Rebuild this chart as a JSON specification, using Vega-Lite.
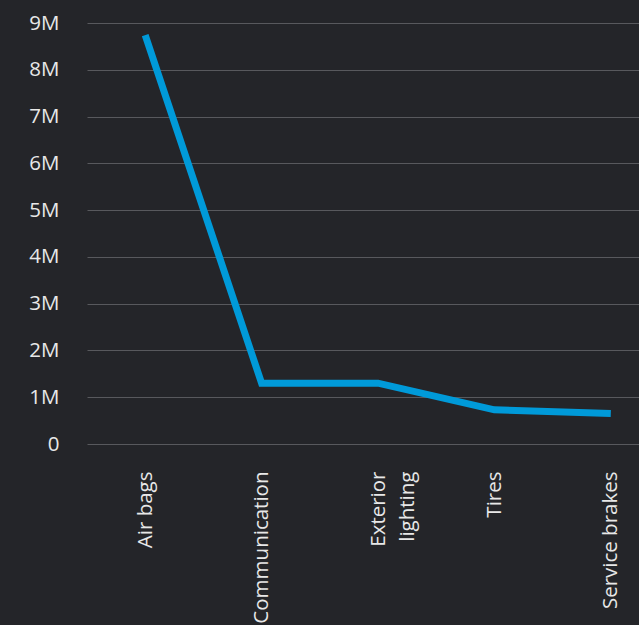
{
  "$schema": "https://vega.github.io/schema/vega-lite/v6.json",
  "width": 582,
  "height": 421,
  "autosize": {"type": "none"},
  "padding": {"left": 87, "top": 23, "right": 0, "bottom": 181},
  "background": "#242529",
  "config": {
    "view": {"stroke": null},
    "font": "Open Sans"
  },
  "data": {
    "values": [
      {"category": "Air bags", "value": 8740000},
      {"category": "Communication", "value": 1300000},
      {"category": "Exterior lighting", "value": 1300000},
      {"category": "Tires", "value": 730000},
      {"category": "Service brakes", "value": 650000}
    ]
  },
  "mark": {"type": "line", "color": "#009ad9", "strokeWidth": 7, "strokeJoin": "miter", "strokeCap": "butt"},
  "encoding": {
    "x": {
      "field": "category",
      "type": "nominal",
      "sort": null,
      "scale": {"type": "point", "padding": 0.5},
      "axis": {
        "title": null,
        "domain": false,
        "ticks": false,
        "grid": false,
        "labelAngle": -90,
        "labelAlign": "right",
        "labelBaseline": "middle",
        "labelPadding": 27,
        "labelFontSize": 20.5,
        "labelColor": "#e8e8e8",
        "labelLineHeight": 29,
        "labelOverlap": false,
        "labelLimit": 0,
        "labelExpr": "datum.label == 'Exterior lighting' ? ['Exterior', 'lighting'] : datum.label"
      }
    },
    "y": {
      "field": "value",
      "type": "quantitative",
      "scale": {"domain": [0, 9000000], "nice": false},
      "axis": {
        "title": null,
        "domain": false,
        "ticks": false,
        "values": [0, 1000000, 2000000, 3000000, 4000000, 5000000, 6000000, 7000000, 8000000, 9000000],
        "labelExpr": "datum.value == 0 ? '0' : (datum.value / 1000000) + 'M'",
        "labelPadding": 28,
        "labelFontSize": 20.5,
        "labelColor": "#e8e8e8",
        "gridColor": "#58595d",
        "gridWidth": 1
      }
    }
  }
}
